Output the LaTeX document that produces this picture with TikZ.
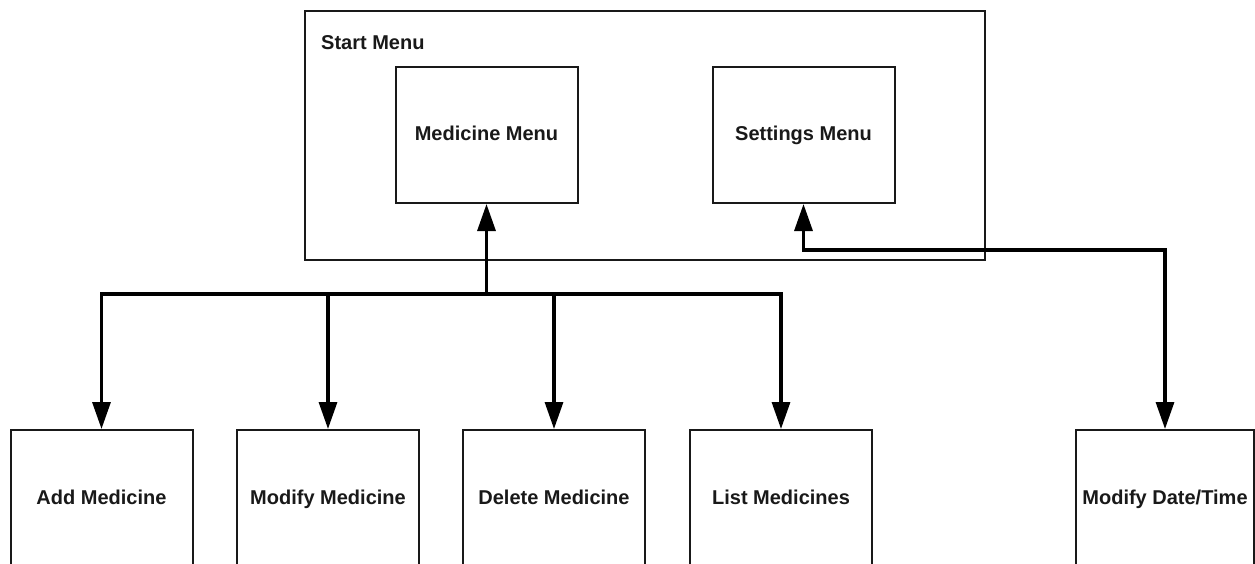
\documentclass[tikz,border=0pt]{standalone}
\usepackage{fontspec}
\setmainfont{Liberation Sans}
\usetikzlibrary{arrows.meta}
\begin{document}
\begin{tikzpicture}[x=1pt,y=-1pt,
  menubox/.style={draw=black!90,line width=2pt,minimum width=182pt,minimum height=136pt,inner sep=0pt,
    text height=14pt,text depth=2pt,
    font=\fontsize{20}{24}\selectfont\bfseries,text=black!90},
  conn/.style={draw=black,line width=3.2pt},
  tip/.style={-{Triangle[length=27pt,width=18pt]}}]
\useasboundingbox (0,0) rectangle (1255,564);
\fill[white] (0,0) rectangle (1255,564);
\node[draw=black!90,line width=2pt,minimum width=680pt,minimum height=249pt,inner sep=0pt] (start) at (645,135.5) {};
\node[anchor=base west,inner sep=0pt,font=\fontsize{20}{24}\selectfont\bfseries,text=black!90] (startlbl) at (321,50) {Start Menu};
\node[menubox] (mm) at (486.5,135) {Medicine Menu};
\node[menubox] (sm) at (803.5,135) {Settings Menu};
\node[menubox] (add) at (101.5,498) {Add Medicine};
\node[menubox] (mod) at (328,498) {Modify Medicine};
\node[menubox] (del) at (554,498) {Delete Medicine};
\node[menubox] (lst) at (781,498) {List Medicines};
\node[menubox,minimum width=178pt] (mdt) at (1165,498) {Modify Date/Time};
\coordinate (bus) at (486.5,294);
\draw[conn,tip] (bus) -- (mm.south);
\draw[conn,tip] (bus) -| (add.north);
\draw[conn,tip] (bus) -| (mod.north);
\draw[conn,tip] (bus) -| (del.north);
\draw[conn,tip] (bus) -| (lst.north);
\draw[conn,{Triangle[length=27pt,width=18pt]}-{Triangle[length=27pt,width=18pt]}] (sm.south) -- ++(0,46) -| (mdt.north);
\end{tikzpicture}
\end{document}
